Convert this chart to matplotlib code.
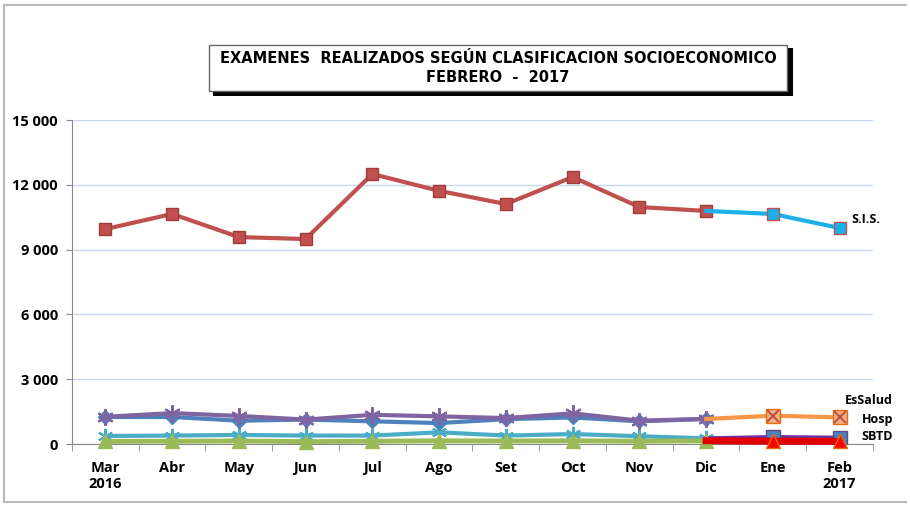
import matplotlib.pyplot as plt
from matplotlib.patches import Rectangle
from matplotlib.lines import Line2D

# datos
meses = ['Mar\n2016', 'Abr', 'May', 'Jun', 'Jul', 'Ago', 'Set', 'Oct', 'Nov', 'Dic', 'Ene', 'Feb\n2017']
sis_2016 = [9950, 10650, 9580, 9490, 12500, 11720, 11110, 12360, 10970, 10790]
sis_2017 = [10790, 10650, 10000]            # Dic, Ene, Feb
morado_2016 = [1260, 1430, 1300, 1130, 1350, 1280, 1200, 1420, 1080, 1160]
azul_2016 = [1250, 1250, 1080, 1130, 1050, 970, 1150, 1230, 1050, 1160]
celeste_2016 = [370, 390, 420, 390, 390, 540, 390, 460, 360, 260]
verde_2016 = [120, 130, 140, 110, 130, 150, 140, 150, 130, 150]
hosp_2017 = [1160, 1310, 1230]
sbtd_2017 = [260, 320, 290]
rojo_2017 = [150, 130, 120]

x16 = list(range(10))
x17 = [9, 10, 11]

fig = plt.figure(figsize=(9.1, 5.05), dpi=100)
ax = fig.add_axes([72/910, 1-444/505, (873-72)/910, (444-120)/505])

ast = (6, 2, 0)
ax.plot(x16, celeste_2016, color='#4BACC6', lw=3, marker=ast, ms=11, mew=1.5, mec='#4BACC6', zorder=3, clip_on=False)
ax.plot(x16, verde_2016, color='#9BBB59', lw=3.5, marker='^', ms=9.5, mfc='#9BBB59', mec='#9BBB59', zorder=4, clip_on=False)
ax.plot(x16, azul_2016, color='#4F81BD', lw=3, marker='D', ms=7, mfc='#4F81BD', mec='#4F81BD', zorder=3)
ax.plot(x16, morado_2016, color='#8064A2', lw=3, marker=ast, ms=12, mew=1.5, mec='#8064A2', zorder=3)
ax.plot(x17, hosp_2017, color='#F79646', lw=3, marker='s', ms=10, mfc='#F4B183', mec='#E46C0A', zorder=3, markevery=[1, 2])
ax.plot(x17[1:], hosp_2017[1:], ls='none', marker='x', ms=8, mew=1.5, mec='#C0504D', zorder=4)
ax.plot(x17, sbtd_2017, color='#7030A0', lw=3, marker='s', ms=10, mfc='#4F81BD', mec='#604A7B', zorder=3, markevery=[1, 2])
ax.plot(x17, rojo_2017, color='#E00000', lw=5, marker='^', ms=10, mfc='#FF0000', mec='#E46C0A', zorder=5, markevery=[1, 2], clip_on=False)
ax.plot(x16, sis_2016, color='#C0504D', lw=3, marker='s', ms=9, mfc='#C0504D', mec='#A03C3A', zorder=3)
ax.plot(x17, sis_2017, color='#1CB0E8', lw=3, marker='s', ms=9, mfc='#1CB0E8', mec='#C0504D', zorder=3, markevery=[1, 2])

ax.set_xlim(-0.5, 11.5)
ax.set_ylim(0, 15000)
ax.set_yticks([0, 3000, 6000, 9000, 12000, 15000])
ax.set_yticklabels(['0', '3 000', '6 000', '9 000', '12 000', '15 000'])
ax.set_xticks(range(12))
ax.set_xticklabels(meses)
ax.set_xticks([i + 0.5 for i in range(-1, 12)], minor=True)
ax.tick_params(axis='x', which='major', length=0, pad=12)
ax.tick_params(axis='x', which='minor', length=5, color='#888888', direction='out')
ax.tick_params(axis='y', length=4, color='#888888', direction='out', pad=6)
for lbl in ax.get_xticklabels() + ax.get_yticklabels():
    lbl.set_fontweight('bold')
    lbl.set_fontsize(10.5)
    lbl.set_family('Open Sans')
    lbl.set_linespacing(1.25)
ax.grid(axis='y', color='#C6D9F1', lw=1)
ax.set_axisbelow(True)
for s in ['top', 'right']:
    ax.spines[s].set_visible(False)
ax.spines['left'].set_color('#888888')
ax.spines['bottom'].set_color('#888888')

# etiquetas a la derecha
ax.text(11.18, 10400, 'S.I.S.', fontsize=9, fontweight='bold', family='Open Sans', va='center')
fig.text(893/910, 1-400/505, 'EsSalud', fontsize=9, fontweight='bold', family='Open Sans', ha='right', va='center')
fig.text(893/910, 1-419/505, 'Hosp', fontsize=9, fontweight='bold', family='Open Sans', ha='right', va='center')
fig.text(893/910, 1-437/505, 'SBTD', fontsize=9, fontweight='bold', family='Open Sans', ha='right', va='center')

# caja del titulo con sombra
fig.patches.append(Rectangle((213/910, 1-96/505), 580/910, 48/505, transform=fig.transFigure,
                             facecolor='black', edgecolor='none', zorder=1))
fig.patches.append(Rectangle((209/910, 1-91/505), 578/910, 46/505, transform=fig.transFigure,
                             facecolor='white', edgecolor='#666666', lw=1, zorder=2))
fig.text(498/910, 1-68/505, 'EXAMENES  REALIZADOS SEGÚN CLASIFICACION SOCIOECONOMICO\nFEBRERO  -  2017',
         ha='center', va='center', fontsize=10.5, fontweight='bold', linespacing=1.3, zorder=3)

# marco exterior
for xs, ys in [([4, 4], [5, 502]), ([4, 906], [5, 5]), ([4, 906], [502, 502])]:
    fig.lines.append(Line2D([v/910 for v in xs], [1-v/505 for v in ys], transform=fig.transFigure,
                            color='#BBBBBB', lw=1.5))

fig.savefig('out.png', dpi=100)
